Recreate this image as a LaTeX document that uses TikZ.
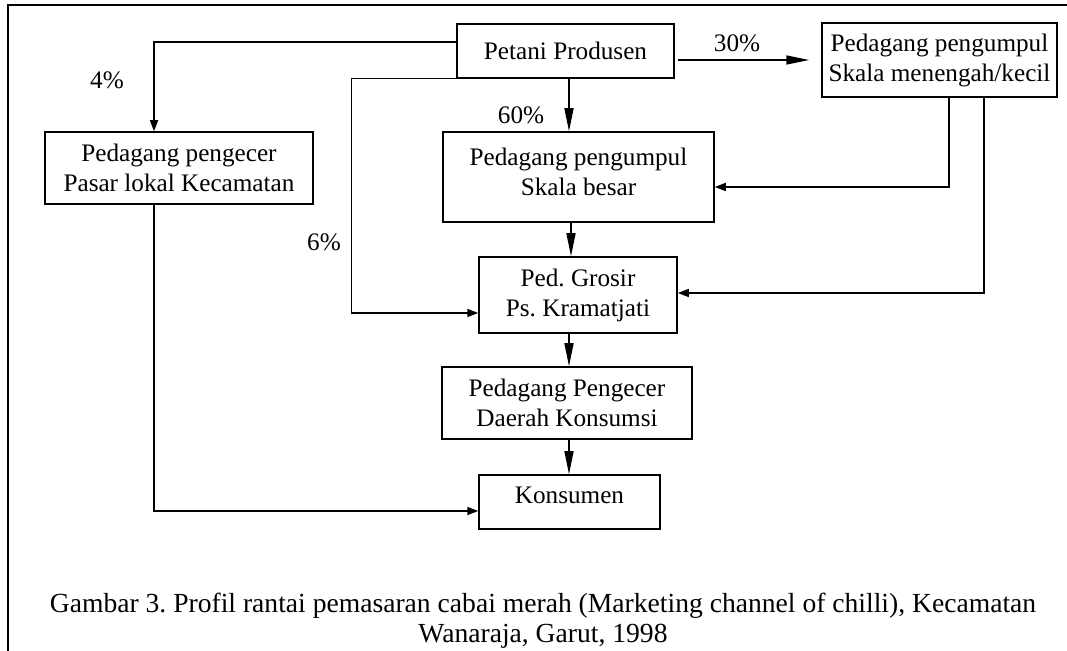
\documentclass[tikz,border=0pt]{standalone}
\usepackage{fontspec}
\setmainfont{Liberation Serif}
\usetikzlibrary{arrows.meta}
\frenchspacing

\begin{document}
\begin{tikzpicture}[x=0.5pt,y=-0.5pt,font=\fontsize{12.6}{15}\selectfont,line width=0.75pt,
  box/.style={draw,align=center,inner sep=0pt},
  main/.style={-{Triangle[length=11.5pt,width=4.5pt]}},
  side/.style={-{Triangle[length=5.5pt,width=4pt]}},
  lift/.style={text depth=#1}]
\useasboundingbox (0,0) rectangle (1067,651);
\draw (8,651) -- (8,5) -- (1067,5);
% lembaga
\node[box,minimum width=108.5pt,minimum height=27pt] (petani) at (565.5,51) {Petani Produsen};
\node[box,minimum width=117.5pt,minimum height=37pt] (menengah) at (939.5,60) {Pedagang pengumpul\\Skala menengah/kecil};
\node[box,minimum width=134pt,minimum height=36pt] (lokal) at (179,168) {Pedagang pengecer\\Pasar lokal Kecamatan};
\node[box,minimum width=135.5pt,minimum height=45pt,lift=5pt] (besar) at (578.5,177) {Pedagang pengumpul\\Skala besar};
\node[box,minimum width=99pt,minimum height=38pt] (grosir) at (578,295) {Ped. Grosir\\Ps. Kramatjati};
\node[box,minimum width=125pt,minimum height=36pt] (daerah) at (567,403) {Pedagang Pengecer\\Daerah Konsumsi};
\node[box,minimum width=90.5pt,minimum height=27pt,lift=7pt] (konsumen) at (569.5,502) {Konsumen};
% persentase
\node (p4) at (107,80) {4\%};
\node (p6) at (324,242) {6\%};
\node (p60) at (521,115) {60\%};
\node (p30) at (737,43) {30\%};
% saluran
\draw[side] ([yshift=4.5pt]petani.west) -| ([xshift=-12.5pt]lokal.north);
\draw[side] (petani.south west) -- ++(-105,0) |- ([yshift=-9pt]grosir.west);
\draw[main] ([xshift=1.75pt]petani.south) -- ([xshift=1.75pt]petani.south |- besar.north);
\draw[main,shorten <=1.5pt,shorten >=6pt] (petani.east |- menengah.west) -- (menengah.west);
\draw[side] ([xshift=4.75pt]menengah.south) |- ([yshift=-5pt]besar.east);
\draw[side] ([xshift=22.25pt]menengah.south) |- ([yshift=1pt]grosir.east);
\draw[main] ([xshift=-3.75pt]besar.south) -- ([xshift=-3.5pt]grosir.north);
\draw[main] ([xshift=-4.5pt]grosir.south) -- ([xshift=-4.5pt]grosir.south |- daerah.north);
\draw[main] ([xshift=1pt]daerah.south) -- ([xshift=1pt]daerah.south |- konsumen.north);
\draw[side] ([xshift=-12.5pt]lokal.south) |- ([yshift=-4.5pt]konsumen.west);
% judul
\node[align=center,font=\fontsize{13.8}{15}\selectfont] (judul) at (543,621) {Gambar 3. Profil rantai pemasaran cabai merah (Marketing channel of chilli), Kecamatan\\Wanaraja, Garut, 1998};
\end{tikzpicture}
\end{document}
